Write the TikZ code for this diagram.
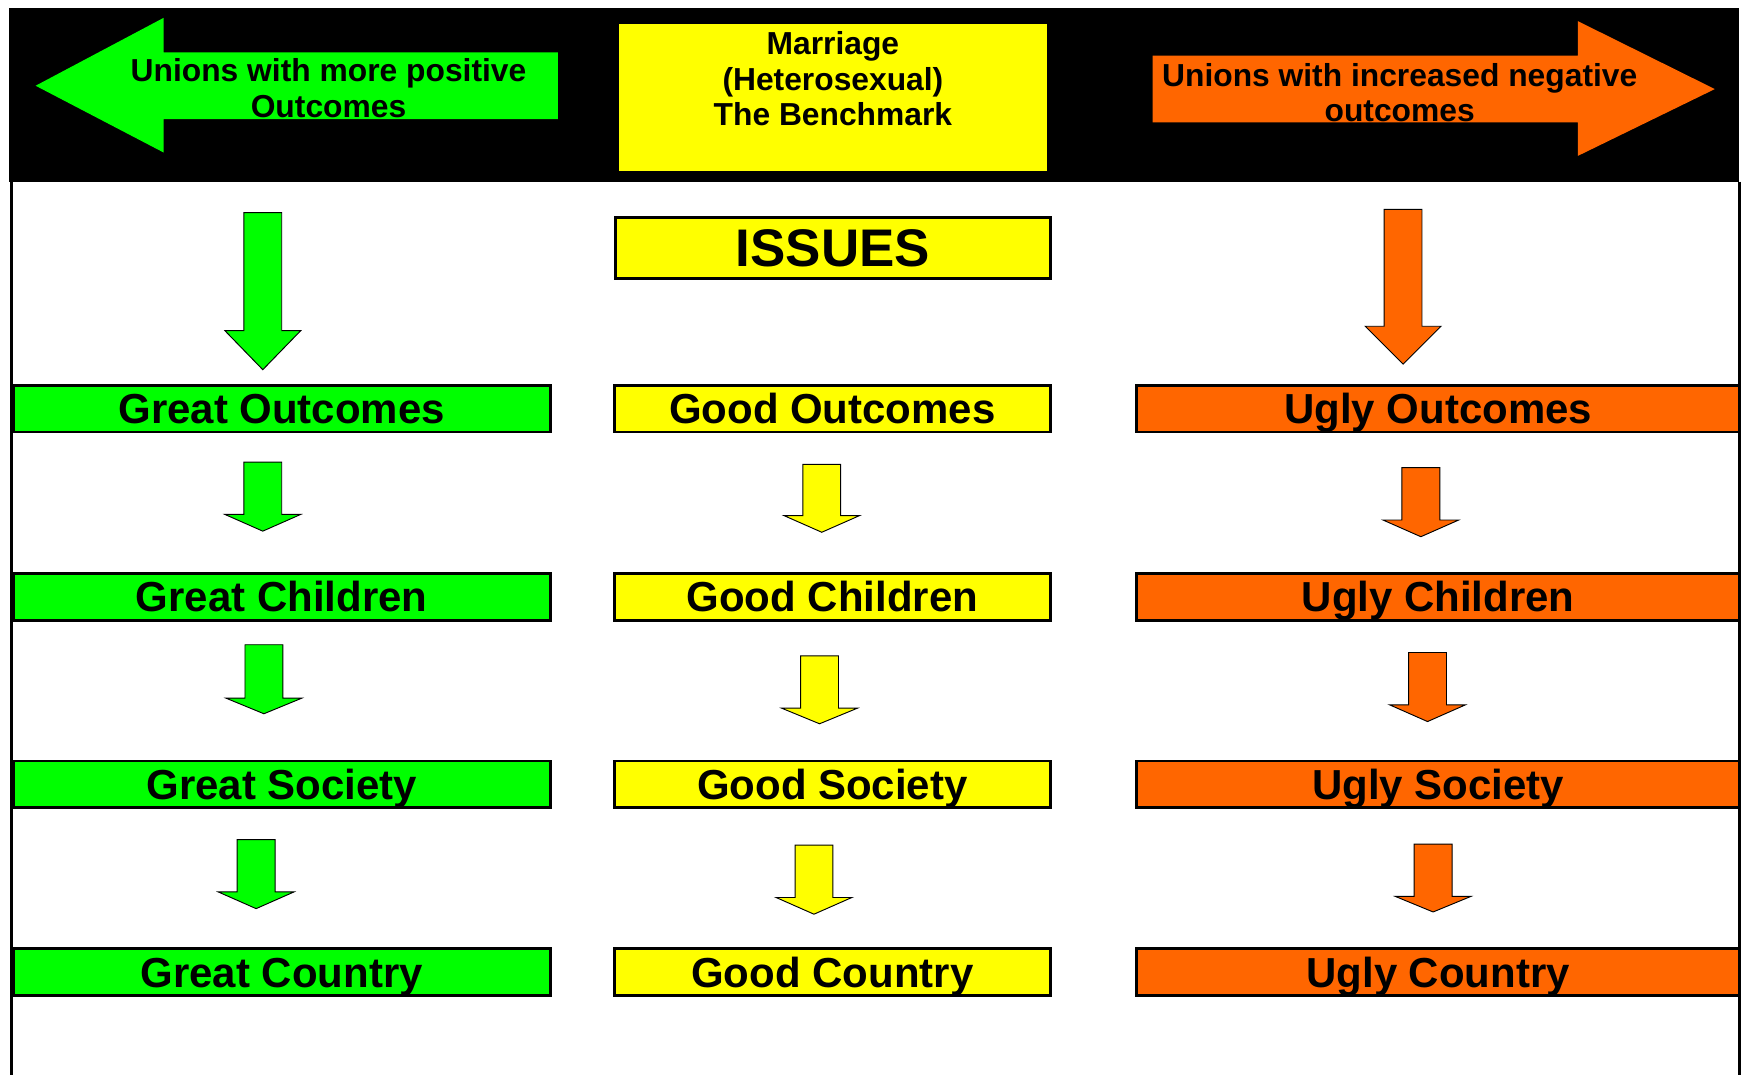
\documentclass[tikz,border=0pt]{standalone}
\usepackage{fontspec}
\setmainfont{Liberation Sans}
\usetikzlibrary{positioning}
\definecolor{grn}{RGB}{0,255,0}
\definecolor{ylw}{RGB}{255,255,0}
\definecolor{org}{RGB}{255,102,0}
\tikzstyle{bx}=[draw=black,line width=1.8pt,minimum height=1.05cm,inner sep=0pt,text height=19.2pt,text depth=0pt,font=\fontsize{26.8}{30}\selectfont\bfseries]
\tikzstyle{gbx}=[bx,fill=grn,minimum width=12.05cm]
\tikzstyle{ybx}=[bx,fill=ylw,minimum width=9.775cm]
\tikzstyle{obx}=[bx,fill=org,minimum width=13.525cm]
\tikzstyle{hd}=[align=center,inner sep=0pt,font=\fontsize{20.3}{22.7}\selectfont\bfseries]
\tikzstyle{ar}=[draw=black,line width=.6pt]
% block arrow pointing down: colour, centre x, top y, head y, tip y
\newcommand{\dnarrow}[5]{\filldraw[ar,fill=#1] (#2-17,#3) -- (#2+17,#3) -- (#2+17,#4) -- (#2+34,#4) -- (#2,#5) -- (#2-34,#4) -- (#2-17,#4) -- cycle;}

\begin{document}
\begin{tikzpicture}[x=0.025cm,y=-0.025cm]
\useasboundingbox (0,0) rectangle (1568,965);
% top band
\fill[black] (8,7) rectangle (1562,163);
\draw[line width=2pt] (10,163) -- (10,965); \draw[line width=2pt] (1562,163) -- (1562,965);
\fill[grn] (32,77) -- (147,16) -- (147,47) -- (501,47) -- (501,107) -- (147,107) -- (147,137) -- cycle;
\node[hd] (pos) at (295,79) {Unions with more positive\\Outcomes};
\node[fill=ylw,minimum width=9.6cm,minimum height=3.3cm,inner sep=0pt] (bench) at (748,88) {};
\node[hd] (benchtxt) at (748,71) {Marriage\\(Heterosexual)\\The Benchmark};
\fill[org] (1035,50) -- (1417,50) -- (1417,19) -- (1540,80) -- (1417,140) -- (1417,110) -- (1035,110) -- cycle;
\node[hd] (neg) at (1257,83) {Unions with increased negative\\outcomes};
% issues
\node[ybx,minimum height=1.375cm,text height=24.2pt,font=\fontsize{33.8}{36}\selectfont\bfseries] (issues) at (748,222.5) {ISSUES};
% rows
\node[gbx] (gout) at (253,367) {Great Outcomes}; \node[ybx] (yout) at (747.5,367) {Good Outcomes}; \node[obx] (oout) at (1291.5,367) {Ugly Outcomes};
\node[gbx] (gchi) at (253,536) {Great Children}; \node[ybx] (ychi) at (747.5,536) {Good Children}; \node[obx] (ochi) at (1291.5,536) {Ugly Children};
\node[gbx] (gsoc) at (253,704.5) {Great Society}; \node[ybx] (ysoc) at (747.5,704.5) {Good Society}; \node[obx] (osoc) at (1291.5,704.5) {Ugly Society};
\node[gbx] (gcou) at (253,873) {Great Country}; \node[ybx] (ycou) at (747.5,873) {Good Country}; \node[obx] (ocou) at (1291.5,873) {Ugly Country};
% down arrows
\dnarrow{grn}{236}{191}{297}{332} \dnarrow{grn}{236}{415}{462}{477} \dnarrow{grn}{237}{579}{627}{641} \dnarrow{grn}{230}{754}{801}{816}
\dnarrow{ylw}{738}{417}{463}{478} \dnarrow{ylw}{736}{589}{636}{650} \dnarrow{ylw}{731}{759}{806}{821}
\dnarrow{org}{1260}{188}{293}{327} \dnarrow{org}{1276}{420}{467}{482} \dnarrow{org}{1282}{586}{633}{648} \dnarrow{org}{1287}{758}{805}{819}
\end{tikzpicture}
\end{document}
